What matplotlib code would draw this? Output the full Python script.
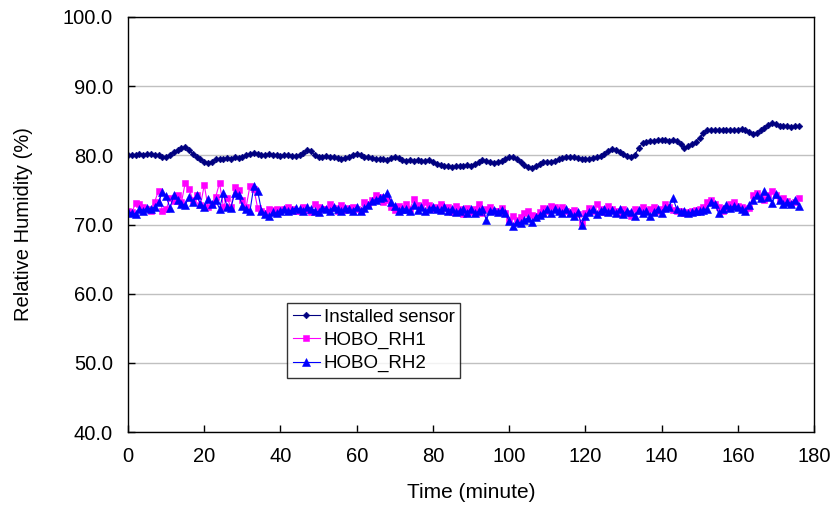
import numpy as np
import matplotlib
matplotlib.use("Agg")
import matplotlib.pyplot as plt
from matplotlib.ticker import FormatStrFormatter

plt.rcParams['font.family'] = ['Liberation Sans', 'DejaVu Sans']

# Relative humidity readings, one per minute
installed_sensor = [
    80.0, 80.1, 80.1, 80.2, 80.1, 80.2, 80.2, 80.1, 80.0,
    79.8, 79.7,
    80.0, 80.5, 80.8, 81.0, 81.2,
    80.8, 80.2, 79.8, 79.4, 79.1, 78.9, 79.1,
    79.4, 79.5, 79.5, 79.6, 79.5, 79.7, 79.6, 79.8, 80.0, 80.2,
    80.3, 80.2, 80.1, 80.0, 80.2, 80.1, 80.0, 79.9, 80.1, 80.0, 79.9,
    79.9, 80.0, 80.3, 80.7, 80.6, 80.0, 79.7,
    79.7, 79.9, 79.8, 79.8, 79.6, 79.5, 79.6, 79.8, 80.1,
    80.2, 80.0, 79.8, 79.7, 79.6,
    79.5, 79.4, 79.4, 79.3, 79.6,
    79.8, 79.6, 79.3,
    79.2, 79.3, 79.2, 79.3, 79.2, 79.2, 79.3,
    79.0, 78.8, 78.6, 78.4, 78.4, 78.3, 78.4, 78.4, 78.5,
    78.6, 78.5, 78.8, 79.0, 79.3, 79.2, 79.0, 78.9,
    79.0, 79.2, 79.5, 79.7, 79.7, 79.5, 79.0, 78.6, 78.3, 78.2,
    78.5, 78.8, 79.0, 79.0, 79.1, 79.2, 79.4, 79.6, 79.7, 79.8,
    79.7, 79.6, 79.5, 79.5, 79.5, 79.6, 79.7, 79.9, 80.2, 80.6,
    80.9, 80.8, 80.5, 80.2, 79.9, 79.7, 80.1,
    81.0, 81.8, 81.9, 82.0, 82.1, 82.2, 82.2, 82.2, 82.1, 82.2, 82.1, 81.6, 81.1,
    81.3, 81.6, 81.9, 82.5, 83.2,
    83.6, 83.6, 83.7, 83.6, 83.6, 83.6, 83.7, 83.6, 83.6, 83.8, 83.7, 83.4, 83.1,
    83.2, 83.6, 84.0, 84.4, 84.6, 84.5, 84.3, 84.2, 84.2, 84.1, 84.2, 84.2,
]

hobo_rh1 = [
    72.0, 71.8, 73.1, 73.0, 72.5, 72.3, 72.0, 73.3, 74.9, 72.0,
    72.2, 73.8, 73.4, 74.3, 73.2, 76.0, 75.2, 73.5, 74.2, 72.8,
    75.7, 72.5, 73.0, 74.0, 76.0, 72.6, 73.8, 72.5, 75.4, 75.0,
    73.6, 72.6, 75.6, 75.2, 72.4, 71.9, 71.6, 72.3, 72.1, 72.2,
    72.1, 72.3, 72.6, 72.2, 71.9, 72.0, 72.5, 72.1, 71.8, 73.0,
    72.6, 72.3, 72.2, 72.9, 72.4, 72.0, 72.8, 72.1, 72.4, 72.6,
    72.3, 72.0, 73.3, 73.0, 73.6, 74.3, 74.0, 73.2, 73.5, 72.5,
    72.1, 72.7, 72.4, 73.0, 72.3, 73.7, 72.8, 72.5, 73.2, 72.8,
    72.3, 72.6, 72.9, 72.4, 72.5, 71.8, 72.7, 72.3, 71.5, 72.4,
    71.8, 72.3, 73.0, 71.6, 72.2, 72.5, 71.9, 72.0, 72.4, 71.6,
    70.7, 71.2, 70.6, 71.1, 71.7, 71.9, 71.4, 71.2, 71.8, 72.4,
    72.0, 72.7, 72.5, 72.3, 72.6, 72.0, 71.8, 72.1, 71.5, 70.2,
    71.6, 72.4, 72.0, 72.9, 72.2, 71.8, 72.7, 72.3, 72.0, 71.6,
    72.3, 71.7, 71.2, 72.2, 72.0, 72.6, 72.0, 72.3, 72.6, 72.0,
    72.3, 73.0, 72.5, 72.1, 71.9, 72.0, 71.7, 71.8, 72.0, 72.1,
    72.3, 72.6, 73.2, 73.6, 73.0, 72.5, 72.0, 72.4, 73.0, 73.2,
    72.7, 72.6, 72.3, 72.4, 74.2, 74.6, 74.0, 73.6, 74.3, 74.8,
    74.2, 73.5, 73.8, 73.4, 73.0, 73.2, 73.8,
]

hobo_rh2 = [
    71.8, 71.6, 71.5, 72.3, 72.0, 72.4, 72.2, 72.6, 73.2, 74.7,
    74.1, 72.4, 74.2, 73.6, 72.9, 72.8, 74.0, 73.2, 74.2, 73.0,
    72.5, 73.7, 72.9, 73.5, 72.3, 74.5, 72.6, 72.4, 74.6, 74.3,
    72.7, 72.3, 72.0, 75.5, 74.9, 72.0, 71.5, 71.2, 71.8, 71.6,
    72.0, 72.2, 71.9, 72.1, 72.4, 72.2, 72.0, 72.5, 72.3, 72.0,
    71.8, 72.4, 72.3, 72.0, 72.6, 72.3, 71.9, 72.4, 72.2, 72.0,
    72.5, 71.9, 72.4, 72.8, 73.4, 73.6, 73.8, 74.0, 74.6, 73.3,
    72.7, 71.9, 72.3, 72.2, 71.9, 72.8, 72.1, 72.5, 72.0, 72.2,
    72.6, 72.3, 72.1, 72.5, 72.0, 72.3, 71.8, 72.0, 72.2, 71.7,
    72.3, 71.6, 71.9, 72.2, 70.7, 71.9, 72.1, 71.8, 72.1, 71.7,
    70.5, 69.8, 70.4, 70.2, 70.6, 71.0, 70.4, 71.1, 71.4, 71.7,
    72.3, 71.6, 72.2, 72.0, 71.7, 72.3, 71.6, 71.2, 71.8, 70.0,
    71.3, 71.8, 72.2, 71.5, 72.0, 72.3, 71.8, 72.1, 71.6, 72.2,
    71.5, 72.0, 71.8, 71.3, 72.1, 71.7, 72.0, 71.2, 71.8, 72.3,
    71.6, 72.4, 72.6, 73.8, 72.2, 71.8, 71.9, 71.6, 71.8, 72.0,
    71.9, 72.1, 72.3, 73.3, 73.0, 71.6, 72.2, 72.8, 72.4, 72.7,
    72.6, 72.3, 72.0, 72.8, 73.5, 74.3, 73.8, 74.9, 74.0, 73.1,
    74.4, 73.5, 72.9, 73.3, 73.0, 73.6, 72.7,
]

series_names = ["Installed sensor", "HOBO_RH1", "HOBO_RH2"]
x_ticks = [0, 20, 40, 60, 80, 100, 120, 140, 160, 180]
y_ticks = [40, 50, 60, 70, 80, 90, 100]

fig = plt.figure(figsize=(8.37, 5.12), dpi=100)
ax = fig.add_axes([0.153, 0.156, 0.8195, 0.811])

styles = [
    dict(color="#000080", marker="D", markersize=3.4),
    dict(color="#FF00FF", marker="s", markersize=5.0),
    dict(color="#0000FF", marker="^", markersize=5.6),
]

for values, name, st in zip([installed_sensor, hobo_rh1, hobo_rh2], series_names, styles):
    minutes = np.arange(len(values))
    ax.plot(minutes, values, color=st["color"], lw=0.8, marker=st["marker"],
            markersize=st["markersize"], markerfacecolor=st["color"],
            markeredgecolor=st["color"], markeredgewidth=0.4, label=name)

ax.set_xlim(0, 180)
ax.set_ylim(40, 100)
ax.set_xticks(x_ticks)
ax.set_yticks(y_ticks)
ax.yaxis.set_major_formatter(FormatStrFormatter("%.1f"))
ax.grid(axis="y", color="#C0C0C0", lw=1.0)
ax.set_axisbelow(True)

for side in ["left", "bottom", "right", "top"]:
    ax.spines[side].set_color("black")
    ax.spines[side].set_linewidth(1.0)

ax.tick_params(axis="both", direction="in", length=5, width=1.0,
               labelsize=14.5, colors="black")
ax.tick_params(axis="y", pad=11)
ax.tick_params(axis="x", pad=11)
ax.set_xlabel("Time (minute)", fontsize=15, labelpad=12)
ax.set_ylabel("Relative Humidity (%)", fontsize=14.5, labelpad=21)

leg = ax.legend(loc="upper left", bbox_to_anchor=(0.232, 0.311),
                fontsize=13.5, frameon=True, fancybox=False,
                borderpad=0.3, labelspacing=0.32, handlelength=1.45,
                handletextpad=0.2, borderaxespad=0)
leg.get_frame().set_edgecolor("black")
leg.get_frame().set_linewidth(1.0)

fig.savefig("out.png", dpi=100)
